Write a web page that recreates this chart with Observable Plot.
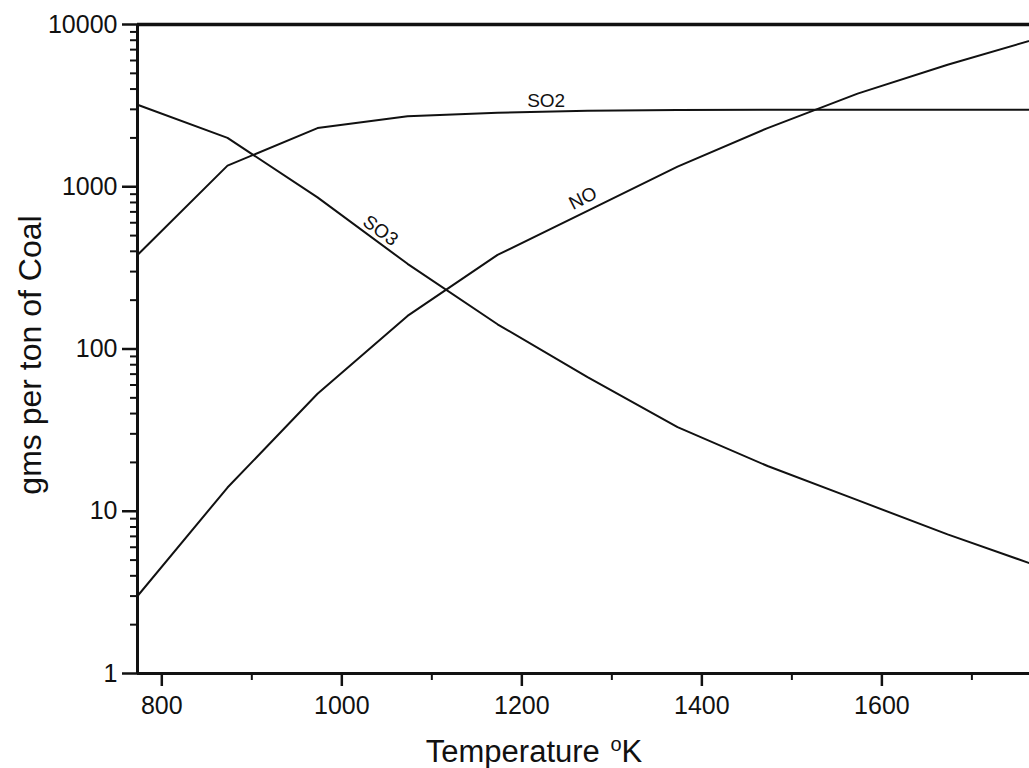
<!DOCTYPE html>
<html><head><meta charset="utf-8">
<script src="https://cdn.jsdelivr.net/npm/d3@7"></script>
<script src="https://cdn.jsdelivr.net/npm/@observablehq/plot@0.6"></script>
<style>
html,body{margin:0;padding:0;background:#fff;overflow:hidden}
#wrap{position:relative;width:1029px;height:768px;font-family:"Liberation Sans",Arial,sans-serif;color:#111}
.xt{position:absolute;left:534px;top:736px;transform:translateX(-50%);font-size:31px;line-height:1;white-space:nowrap}
.yt{position:absolute;left:30px;top:355px;transform:translate(-50%,-50%) rotate(-90deg);font-size:32px;line-height:1;white-space:nowrap}
.sup{font-size:20px;position:relative;top:-11px;margin-left:2px}
</style></head><body>
<div id="wrap"><div id="chart"></div>
<div class="xt">Temperature <span class="sup">o</span>K</div>
<div class="yt">gms per ton of Coal</div>
</div>
<script>
// Data
const temps = [773, 873, 973, 1073, 1173, 1273, 1373, 1473, 1573, 1673, 1773];
const so2 = [380, 1350, 2300, 2720, 2860, 2940, 2970, 2980, 2980, 2980, 2980];
const so3 = [3200, 2000, 860, 335, 142, 67, 33, 19, 11.7, 7.2, 4.6];
const no  = [3, 14, 53, 160, 380, 710, 1330, 2300, 3750, 5650, 8200];
const seriesNames = ["SO2", "SO3", "NO"];

// Curve labels (annotation positions in data units)
const labelText = ["SO2", "SO3", "NO"];
const labelT = [1227, 1043, 1268];
const labelV = [3400, 537, 847];
const labelAngle = [0, 36.5, -27];

// Axis ticks
const xMajor = [800, 1000, 1200, 1400, 1600];
const xMinor = [900, 1100, 1300, 1500, 1700];
const yMajor = [1, 10, 100, 1000, 10000];
const yMinor = [];
for (const d of [1, 10, 100, 1000]) for (let k = 2; k <= 9; k++) yMinor.push(d * k);

const seriesValues = [so2, so3, no];
const rows = [];
seriesNames.forEach((s, i) => temps.forEach((t, j) => rows.push({series: s, T: t, v: seriesValues[i][j]})));
const labels = labelText.map((t, i) => ({text: t, T: labelT[i], v: labelV[i], a: labelAngle[i]}));

const ink = "#111";
const chart = Plot.plot({
  width: 1029,
  height: 768,
  marginLeft: 137,
  marginRight: 0,
  marginTop: 24,
  marginBottom: 95,
  style: {background: "#fff", fontFamily: "'Liberation Sans', Arial, sans-serif", color: ink},
  x: {domain: [773, 1764]},
  y: {type: "log", domain: [1, 10000]},
  marks: [
    Plot.axisY({ticks: yMinor, tickSize: 7, tickFormat: () => "", strokeWidth: 2, label: null}),
    Plot.axisY({ticks: yMajor, tickSize: 15, tickPadding: 5, tickFormat: d => String(d), fontSize: 25, strokeWidth: 2.5, label: null}),
    Plot.axisX({ticks: xMinor, tickSize: 7, tickFormat: () => "", strokeWidth: 2, label: null}),
    Plot.axisX({ticks: xMajor, tickSize: 13, tickPadding: 10, tickFormat: d => String(d), fontSize: 25, strokeWidth: 2.5, label: null}),
    Plot.line(rows, {x: "T", y: "v", z: "series", stroke: ink, strokeWidth: 2, clip: true}),
    Plot.ruleY([10000], {stroke: ink, strokeWidth: 3.5}),
    Plot.ruleY([1], {stroke: ink, strokeWidth: 3}),
    Plot.ruleX([773], {stroke: ink, strokeWidth: 3}),
    Plot.text(labels, {x: "T", y: "v", text: "text", rotate: "a", fontSize: 19, fill: ink})
  ]
});
document.getElementById("chart").appendChild(chart);
</script>
</body></html>
